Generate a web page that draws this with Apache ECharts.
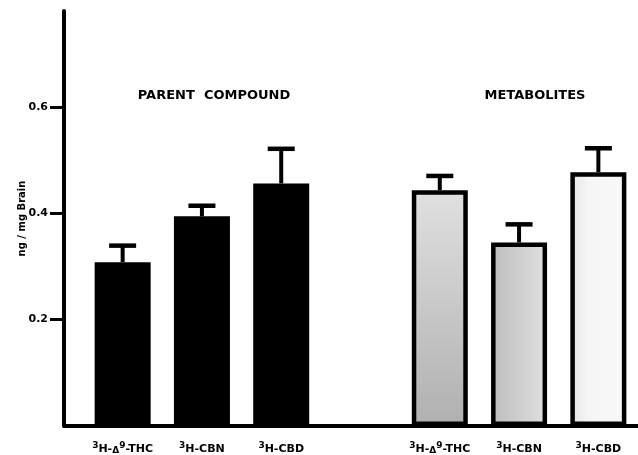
<!DOCTYPE html>
<html>
<head>
<meta charset="utf-8">
<script src="https://cdn.jsdelivr.net/npm/echarts@6/dist/echarts.min.js"></script>
<style>html,body{margin:0;padding:0;background:#fff;}#c{width:638px;height:455px;}</style>
</head>
<body>
<div id="c"></div>
<script>
// ---- data ----
var categories = ['P-THC', 'P-CBN', 'P-CBD', '', 'M-THC', 'M-CBN', 'M-CBD'];
var labelCompound = ['THC', 'CBN', 'CBD', '', 'THC', 'CBN', 'CBD'];
var groupTitles = ['PARENT  COMPOUND', 'METABOLITES'];
var parentValues = [0.308, 0.394, 0.456];
var parentErrors = [0.031, 0.020, 0.065];
var metabValues = [0.443, 0.345, 0.477];
var metabErrors = [0.027, 0.034, 0.045];
var yTicks = [0.2, 0.4, 0.6];
var yName = 'ng / mg Brain';

// ---- build ----
var values = parentValues.concat(['-']).concat(metabValues);
var errors = parentErrors.concat([null]).concat(metabErrors);

var metabFills = [
  new echarts.graphic.LinearGradient(0, 0, 0, 1, [{offset: 0, color: '#e0e0e0'}, {offset: 1, color: '#b0b0b0'}]),
  new echarts.graphic.LinearGradient(0, 0, 1, 0, [{offset: 0, color: '#bcbcbc'}, {offset: 1, color: '#e0e0e0'}]),
  new echarts.graphic.LinearGradient(0, 0, 1, 0, [{offset: 0, color: '#e4e4e4'}, {offset: 0.3, color: '#f5f5f5'}, {offset: 1, color: '#f8f8f8'}])
];

var barData = values.map(function (v, i) {
  if (i < 3) {
    return {value: v, itemStyle: {color: '#000', borderColor: '#000', borderWidth: 3}};
  } else if (i > 3) {
    return {value: v, itemStyle: {color: metabFills[i - 4], borderColor: '#000', borderWidth: 4.5}};
  }
  return {value: v};
});

var errData = [];
values.forEach(function (v, i) {
  if (v !== '-') errData.push([i, v, errors[i]]);
});

function fmtLabel(val, idx) {
  var c = labelCompound[idx];
  if (!c) return '';
  if (c === 'THC') return '{sup|3}{n|H-}{d|\u0394}{sup|9}{n|-THC}';
  return '{sup|3}{n|H-' + c + '}';
}

var font = 'DejaVu Sans';
var chart = echarts.init(document.getElementById('c'));
chart.setOption({
  animation: false,
  backgroundColor: '#fff',
  title: [
    {text: groupTitles[0], left: 209, top: 84, textAlign: 'center',
     textStyle: {fontFamily: font, fontWeight: 'bold', fontSize: 13, color: '#000'}},
    {text: groupTitles[1], left: 530, top: 84, textAlign: 'center',
     textStyle: {fontFamily: font, fontWeight: 'bold', fontSize: 13, color: '#000'}}
  ],
  grid: {left: 83, top: 11, width: 559, bottom: 29, containLabel: false},
  xAxis: {
    type: 'category',
    data: categories,
    axisLine: {show: true, lineStyle: {color: '#000', width: 4}},
    axisTick: {show: false},
    axisLabel: {
      interval: 0,
      margin: 15,
      formatter: fmtLabel,
      rich: {
        n: {fontFamily: font, fontWeight: 'bold', fontSize: 11, color: '#000', lineHeight: 14, verticalAlign: 'bottom'},
        d: {fontFamily: font, fontWeight: 'bold', fontSize: 9, color: '#000', lineHeight: 14, verticalAlign: 'bottom'},
        sup: {fontFamily: font, fontWeight: 'bold', fontSize: 9, color: '#000', lineHeight: 14, verticalAlign: 'top'}
      }
    }
  },
  yAxis: {
    type: 'value',
    min: 0,
    max: 0.78,
    offset: 19,
    splitLine: {show: false},
    axisLine: {show: true, lineStyle: {color: '#000', width: 4}},
    axisTick: {show: true, length: 14, customValues: yTicks, lineStyle: {color: '#000', width: 3}},
    axisLabel: {customValues: yTicks, margin: 16, fontFamily: font, fontWeight: 'bold', fontSize: 11, color: '#000',
      formatter: function (v) { return v.toFixed(1); }},
    name: yName,
    nameLocation: 'middle',
    nameGap: 37,
    nameMoveOverlap: false,
    nameTextStyle: {fontFamily: font, fontWeight: 'bold', fontSize: 10, color: '#000'}
  },
  graphic: [
    {type: 'line', shape: {x1: 63, y1: 426, x2: 86, y2: 426}, style: {stroke: '#000', lineWidth: 4}}
  ],
  series: [
    {type: 'bar', data: barData, barWidth: 56},
    {
      type: 'custom',
      data: errData,
      z: 1,
      renderItem: function (params, api) {
        var x = api.value(0), v = api.value(1), e = api.value(2);
        var base = api.coord([x, v]);
        var top = api.coord([x, v + e]);
        return {
          type: 'group',
          children: [
            {type: 'line', shape: {x1: base[0], y1: base[1], x2: top[0], y2: top[1]}, style: {stroke: '#000', lineWidth: 4}},
            {type: 'line', shape: {x1: top[0] - 13.5, y1: top[1], x2: top[0] + 13.5, y2: top[1]}, style: {stroke: '#000', lineWidth: 4.5}}
          ]
        };
      }
    }
  ]
});
</script>
</body>
</html>
